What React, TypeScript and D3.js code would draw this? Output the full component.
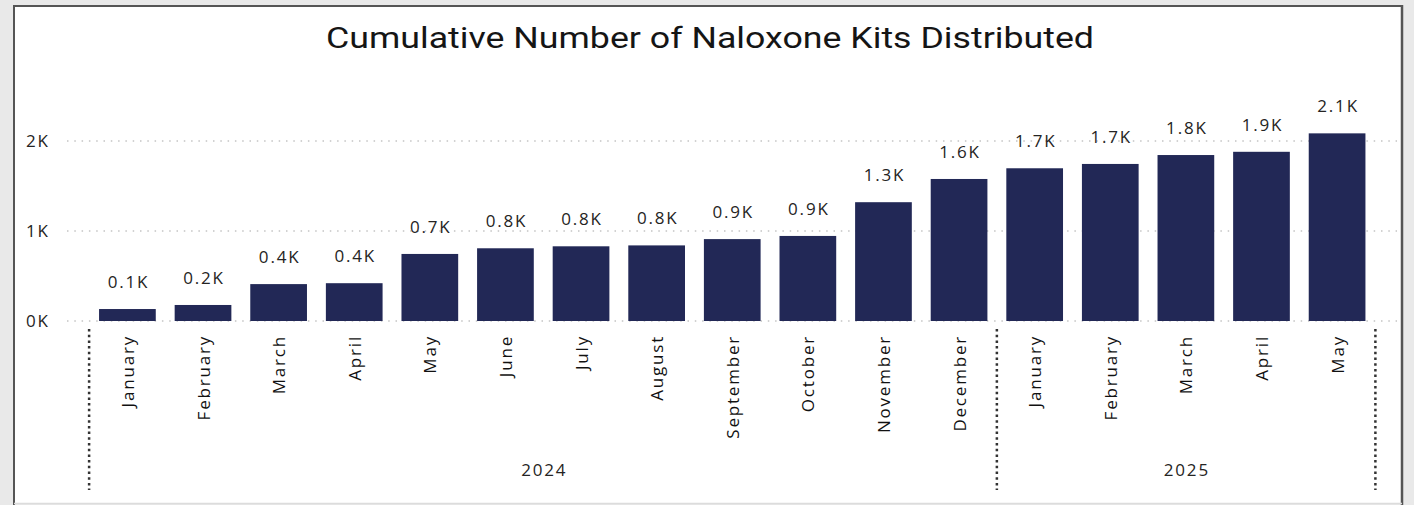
import React from "react";
import * as d3 from "d3";

const months = ["January","February","March","April","May","June","July","August","September","October","November","December","January","February","March","April","May"];
const years = ["2024","2024","2024","2024","2024","2024","2024","2024","2024","2024","2024","2024","2025","2025","2025","2025","2025"];
const kits = [133,178,410,420,745,808,830,840,910,945,1320,1578,1697,1745,1844,1880,2085];
const yTicks = [0,1000,2000];
const yearGroups = ["2024","2025"];

const W = 1414, H = 505;
const BAR = "#222856";
const FONT = "'Open Sans', sans-serif";

export default function App() {
  const keys = months.map((m, i) => `${years[i]}-${i}`);
  const x = d3.scaleBand<string>().domain(keys).range([91.5, 1373]).paddingInner(0.25).paddingOuter(0.1);
  const y = d3.scaleLinear().domain([0, 2000]).range([321, 141]);
  const fmtTick = (v: number) => `${d3.format(".0f")(v / 1000)}K`;
  const fmtLbl = (v: number) => `${d3.format(".1f")(v / 1000)}K`;
  const step = x.step();

  const groups = yearGroups.map((yr) => {
    const idx = years.map((v, i) => (v === yr ? i : -1)).filter((i) => i >= 0);
    const x0 = (x(keys[idx[0]]) as number) - step * 0.125;
    const x1 = (x(keys[idx[idx.length - 1]]) as number) + x.bandwidth() + step * 0.125;
    return { yr, x0, x1 };
  });
  const seps = [groups[0].x0 - 0.5, groups[0].x1, groups[1].x1 + 0.5];

  return (
    <svg width={W} height={H} style={{ position: "absolute", left: 0, top: 0 }} fontFamily={FONT}>
      <rect x={0} y={0} width={W} height={H} fill="#e9e9e9" />
      <rect x={14} y={6} width={1388} height={497} fill="#ffffff" />
      <line x1={14} y1={6} x2={1402} y2={6} stroke="#555" strokeWidth={2} />
      <line x1={14} y1={5} x2={14} y2={505} stroke="#555" strokeWidth={2} />
      <line x1={1402} y1={5} x2={1402} y2={505} stroke="#555" strokeWidth={2.5} />
      <line x1={14} y1={503.5} x2={1402} y2={503.5} stroke="#dcdcdc" strokeWidth={1.5} />

      <text x={710} y={48} textAnchor="middle" fontFamily="Roboto, sans-serif" fontWeight={400} fontSize={30} fill="#151515" textLength={768} lengthAdjust="spacingAndGlyphs">
        Cumulative Number of Naloxone Kits Distributed
      </text>

      {yTicks.map((t) => (
        <g key={t}>
          <line x1={67} x2={1397} y1={y(t)} y2={y(t)} stroke="#c4c4c4" strokeWidth={1.3} strokeDasharray="1.5,5.8" />
          <text x={26} y={y(t)} dy="0.36em" fontSize={17} letterSpacing={1.8} fill="#252423">{fmtTick(t)}</text>
        </g>
      ))}

      {kits.map((v, i) => {
        const bx = x(keys[i]) as number;
        const cx = bx + x.bandwidth() / 2;
        return (
          <g key={keys[i]}>
            <rect x={bx} y={y(v)} width={x.bandwidth()} height={y(0) - y(v)} fill={BAR} />
            <text x={cx + 1} y={y(v) - 21} textAnchor="middle" fontSize={17} letterSpacing={1.8} fill="#252423">{fmtLbl(v)}</text>
            <text transform={`translate(${cx},${335}) rotate(-90)`} textAnchor="end" dominantBaseline="central" fontSize={17} letterSpacing={1.8} fill="#111">{months[i]}</text>
          </g>
        );
      })}

      {seps.map((sx, i) => (
        <line key={i} x1={sx} x2={sx} y1={329} y2={490} stroke="#333" strokeWidth={2.5} strokeDasharray="2.5,3.2" />
      ))}

      {groups.map((g) => (
        <text key={g.yr} x={(g.x0 + g.x1) / 2 + 1} y={476} textAnchor="middle" fontSize={17} letterSpacing={1.8} fill="#252423">{g.yr}</text>
      ))}
    </svg>
  );
}
